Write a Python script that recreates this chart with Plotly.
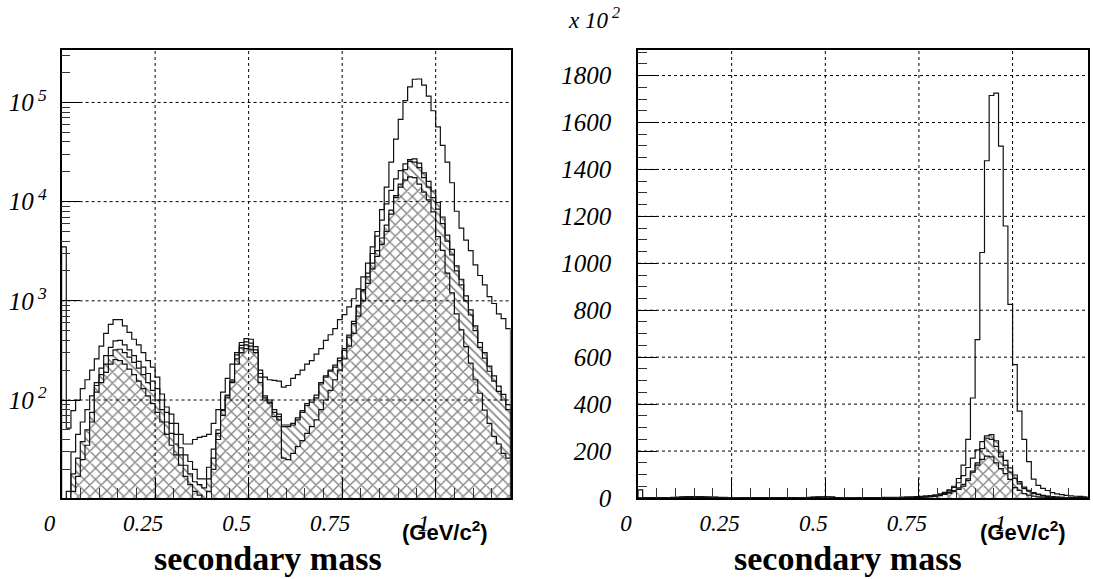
import numpy as np
import plotly.graph_objects as go

# ---------------- data (counts per bin, 96 bins of 0.0125 GeV from 0 to 1.2) ----------------
mass_min = 0.0
mass_max = 1.2
n_bins = 96

total = [3500, 52, 78, 100, 130, 160, 200, 260, 350, 470,
         580, 645, 645, 560, 480, 410, 360, 300, 250, 215,
         170, 115, 85, 72, 58, 45, 36, 36, 40, 42,
         43, 45, 58, 80, 120, 165, 230, 300, 380, 415,
         410, 345, 200, 170, 160, 158, 155, 135, 140, 165,
         180, 200, 230, 250, 290, 330, 400, 455, 525, 645,
         725, 870, 1050, 1320, 1740, 2400, 3500, 5000, 8300, 14000,
         25000, 42600, 67500, 104600, 143700, 171500, 172500, 149900, 115900, 82500,
         56800, 37000, 25000, 15500, 8000, 5400, 4100, 3200, 2300, 1800,
         1450, 1100, 940, 740, 660, 525]

sel_a = [0, 12, 30, 45, 60, 80, 110, 150, 210, 280,
         340, 395, 400, 360, 320, 280, 245, 215, 185, 155,
         130, 100, 75, 58, 45, 33, 28, 24, 20, 16,
         16, 21, 32, 50, 80, 112, 160, 285, 355, 385,
         375, 320, 185, 110, 100, 80, 72, 56, 56, 58,
         66, 78, 92, 100, 112, 150, 175, 200, 225, 265,
         330, 450, 620, 900, 1300, 1900, 3000, 4500, 6500, 9500,
         13000, 17000, 20500, 24000, 25500, 25000, 22000, 17500, 14000, 11000,
         8400, 6000, 4000, 2900, 2000, 1450, 1000, 720, 500, 340,
         265, 195, 155, 122, 100, 80]

sel_b = [0, 10, 18, 26, 38, 50, 75, 140, 180, 230,
         280, 320, 325, 300, 270, 240, 210, 180, 150, 125,
         100, 80, 60, 46, 36, 28, 22, 18, 15, 14,
         13, 16, 26, 46, 78, 110, 155, 260, 335, 360,
         350, 300, 170, 105, 95, 75, 68, 54, 54, 56,
         63, 75, 88, 95, 105, 145, 170, 195, 215, 250,
         316, 430, 590, 870, 1260, 1740, 2400, 3200, 4300, 5800,
         8200, 11500, 15000, 21000, 26500, 27000, 24400, 19500, 16000, 12800,
         9800, 7000, 4600, 3300, 2250, 1650, 1120, 810, 560, 380,
         300, 220, 175, 138, 114, 90]

sel_c = [0, 8, 12, 17, 25, 35, 60, 120, 150, 190,
         230, 255, 250, 230, 205, 180, 155, 130, 110, 92,
         75, 60, 45, 35, 28, 22, 17, 14, 12, 11,
         10, 12, 20, 40, 70, 105, 150, 230, 300, 330,
         320, 300, 150, 100, 93, 68, 63, 26, 25, 29,
         34, 39, 46, 54, 63, 80, 100, 125, 160, 200,
         260, 350, 470, 700, 1000, 1500, 2100, 2800, 3700, 5000,
         7500, 11000, 14000, 16500, 17800, 17500, 15000, 12500, 10400, 7900,
         4450, 3230, 1900, 1200, 740, 510, 345, 235, 160, 117,
         79, 58, 43, 36, 29, 26]

x_ticks = [0, 0.25, 0.5, 0.75, 1.0]
x_ticktext = ["0", "0.25", "0.5", "0.75", "1"]
log_ticks = [100, 1000, 10000, 100000]
log_ticktext = ["10<sup> 2</sup>", "10<sup> 3</sup>", "10<sup> 4</sup>", "10<sup> 5</sup>"]
lin_ticks = [0, 200, 400, 600, 800, 1000, 1200, 1400, 1600, 1800]
lin_scale = 100.0

edges = np.linspace(mass_min, mass_max, n_bins + 1)


def step_xy(vals, base):
    xs = [edges[0]] + list(edges[:-1]) + [edges[-1], edges[-1]]
    ys = [base] + list(vals) + [vals[-1], base]
    return xs, ys


LINE = "#111111"
fig = go.Figure()

back_pat = dict(shape="\\", size=6, solidity=0.26, fgcolor="black", bgcolor="white")
cross_pat = dict(shape="x", size=8, solidity=0.3, fgcolor="black", bgcolor="white")


def add_hists(xa, ya, scale, base):
    def sc(v):
        return [max(u / scale, base) if base > 0 else u / scale for u in v]
    xs, ys = step_xy(sc(total), base)
    fig.add_trace(go.Scatter(x=xs, y=ys, mode="lines", line=dict(color=LINE, width=1.2, shape="hv"),
                             xaxis=xa, yaxis=ya, showlegend=False, hoverinfo="skip"))
    xs, ys = step_xy(sc(sel_b), base)
    fig.add_trace(go.Scatter(x=xs, y=ys, mode="lines", line=dict(color=LINE, width=1.2, shape="hv"),
                             fill="toself", fillcolor="white", fillpattern=back_pat,
                             xaxis=xa, yaxis=ya, showlegend=False, hoverinfo="skip"))
    xs, ys = step_xy(sc(sel_a), base)
    fig.add_trace(go.Scatter(x=xs, y=ys, mode="lines", line=dict(color=LINE, width=1.2, shape="hv"),
                             xaxis=xa, yaxis=ya, showlegend=False, hoverinfo="skip"))
    xs, ys = step_xy(sc(sel_c), base)
    fig.add_trace(go.Scatter(x=xs, y=ys, mode="lines", line=dict(color=LINE, width=1.2, shape="hv"),
                             fill="toself", fillcolor="white", fillpattern=cross_pat,
                             xaxis=xa, yaxis=ya, showlegend=False, hoverinfo="skip"))


add_hists("x", "y", 1.0, 1.0)
add_hists("x2", "y2", lin_scale, 0.0)

W, H = 1093, 579
L_dom = [61.6 / W, 510.5 / W]
R_dom = [638.0 / W, 1087.5 / W]
Y_dom = [(H - 498.0) / H, (H - 49.5) / H]

tickfont_x = dict(family="Liberation Serif", size=23, color="black", style="italic")
tickfont_y = dict(family="Liberation Serif", size=25, color="black", style="italic")

x_common = dict(range=[mass_min, mass_max], tickmode="array", tickvals=x_ticks, ticktext=x_ticktext,
                ticks="inside", ticklen=20, tickwidth=1, tickcolor="black",
                minor=dict(ticks="inside", ticklen=10, dtick=0.05, tickcolor="#333", showgrid=False),
                showline=True, linecolor="black", linewidth=1.5, mirror=True, automargin=False,
                showgrid=False, zeroline=False, tickfont=tickfont_x, layer="above traces",
                ticklabelshift=-12, ticklabelstandoff=4)

minor_log = []
for d in [10, 100, 1000, 10000, 100000]:
    for k in range(2, 10):
        minor_log.append(d * k)

fig.update_layout(
    width=W, height=H, paper_bgcolor="white", plot_bgcolor="white",
    margin=dict(l=0, r=0, t=0, b=0, pad=0, autoexpand=False),
    xaxis=dict(domain=L_dom, anchor="y", **x_common),
    xaxis2=dict(domain=R_dom, anchor="y2", **x_common),
    yaxis=dict(domain=Y_dom, anchor="x", type="log", range=[1.012, 5.534],
               tickmode="array", tickvals=log_ticks, ticktext=log_ticktext,
               ticks="inside", ticklen=19, tickwidth=1, tickcolor="black",
               minor=dict(ticks="inside", ticklen=9, tickmode="array", tickvals=minor_log,
                          tickcolor="#333", showgrid=False),
               showline=True, linecolor="black", linewidth=1.5, mirror=True, automargin=False,
               showgrid=False, zeroline=False, tickfont=tickfont_y, layer="above traces",
               ticklabelstandoff=8),
    yaxis2=dict(domain=Y_dom, anchor="x2", range=[0, 1911],
                tickmode="array", tickvals=lin_ticks,
                ticks="inside", ticklen=19, tickwidth=1, tickcolor="black",
                minor=dict(ticks="inside", ticklen=9, dtick=50, tickcolor="#333", showgrid=False),
                showline=True, linecolor="black", linewidth=1.5, mirror=True, automargin=False,
                showgrid=False, zeroline=False, tickfont=tickfont_y, layer="above traces",
                ticklabelstandoff=20),
)

# dotted grid lines drawn above the histograms (as in the original)
grid_style = dict(color="black", width=1, dash="dot")
for xa, ya in [("x", "y"), ("x2", "y2")]:
    for xv in x_ticks[1:]:
        fig.add_shape(type="line", xref=xa, yref=ya + " domain", x0=xv, x1=xv, y0=0, y1=1,
                      line=grid_style, layer="above")
for yv in log_ticks:
    fig.add_shape(type="line", xref="x domain", yref="y", x0=0, x1=1, y0=yv, y1=yv,
                  line=grid_style, layer="above")
for yv in lin_ticks[1:]:
    fig.add_shape(type="line", xref="x2 domain", yref="y2", x0=0, x1=1, y0=yv, y1=yv,
                  line=grid_style, layer="above")

title_font = dict(family="Liberation Serif", size=34, color="black", weight="bold")
unit_font = dict(family="Liberation Sans", size=22, color="black", weight="bold")

fig.add_annotation(x=268 / W, y=(H - 558) / H, xref="paper", yref="paper", text="secondary mass",
                   showarrow=False, font=title_font, xanchor="center", yanchor="middle")
fig.add_annotation(x=445 / W, y=(H - 531) / H, xref="paper", yref="paper", text="(GeV/c<sup>2</sup>)",
                   showarrow=False, font=unit_font, xanchor="center", yanchor="middle")
fig.add_annotation(x=848 / W, y=(H - 558) / H, xref="paper", yref="paper", text="secondary mass",
                   showarrow=False, font=title_font, xanchor="center", yanchor="middle")
fig.add_annotation(x=1023 / W, y=(H - 531) / H, xref="paper", yref="paper", text="(GeV/c<sup>2</sup>)",
                   showarrow=False, font=unit_font, xanchor="center", yanchor="middle")
fig.add_annotation(x=566 / W, y=(H - 18) / H, xref="paper", yref="paper", text="x 10<sup> 2</sup>",
                   showarrow=False, font=dict(family="Liberation Serif", size=23, color="black", style="italic"),
                   xanchor="left", yanchor="middle")

fig.write_html("out.html", config={"displayModeBar": False},
               post_script="document.body.style.margin='0';document.body.style.padding='0';"
                           "document.documentElement.style.overflow='hidden';")
